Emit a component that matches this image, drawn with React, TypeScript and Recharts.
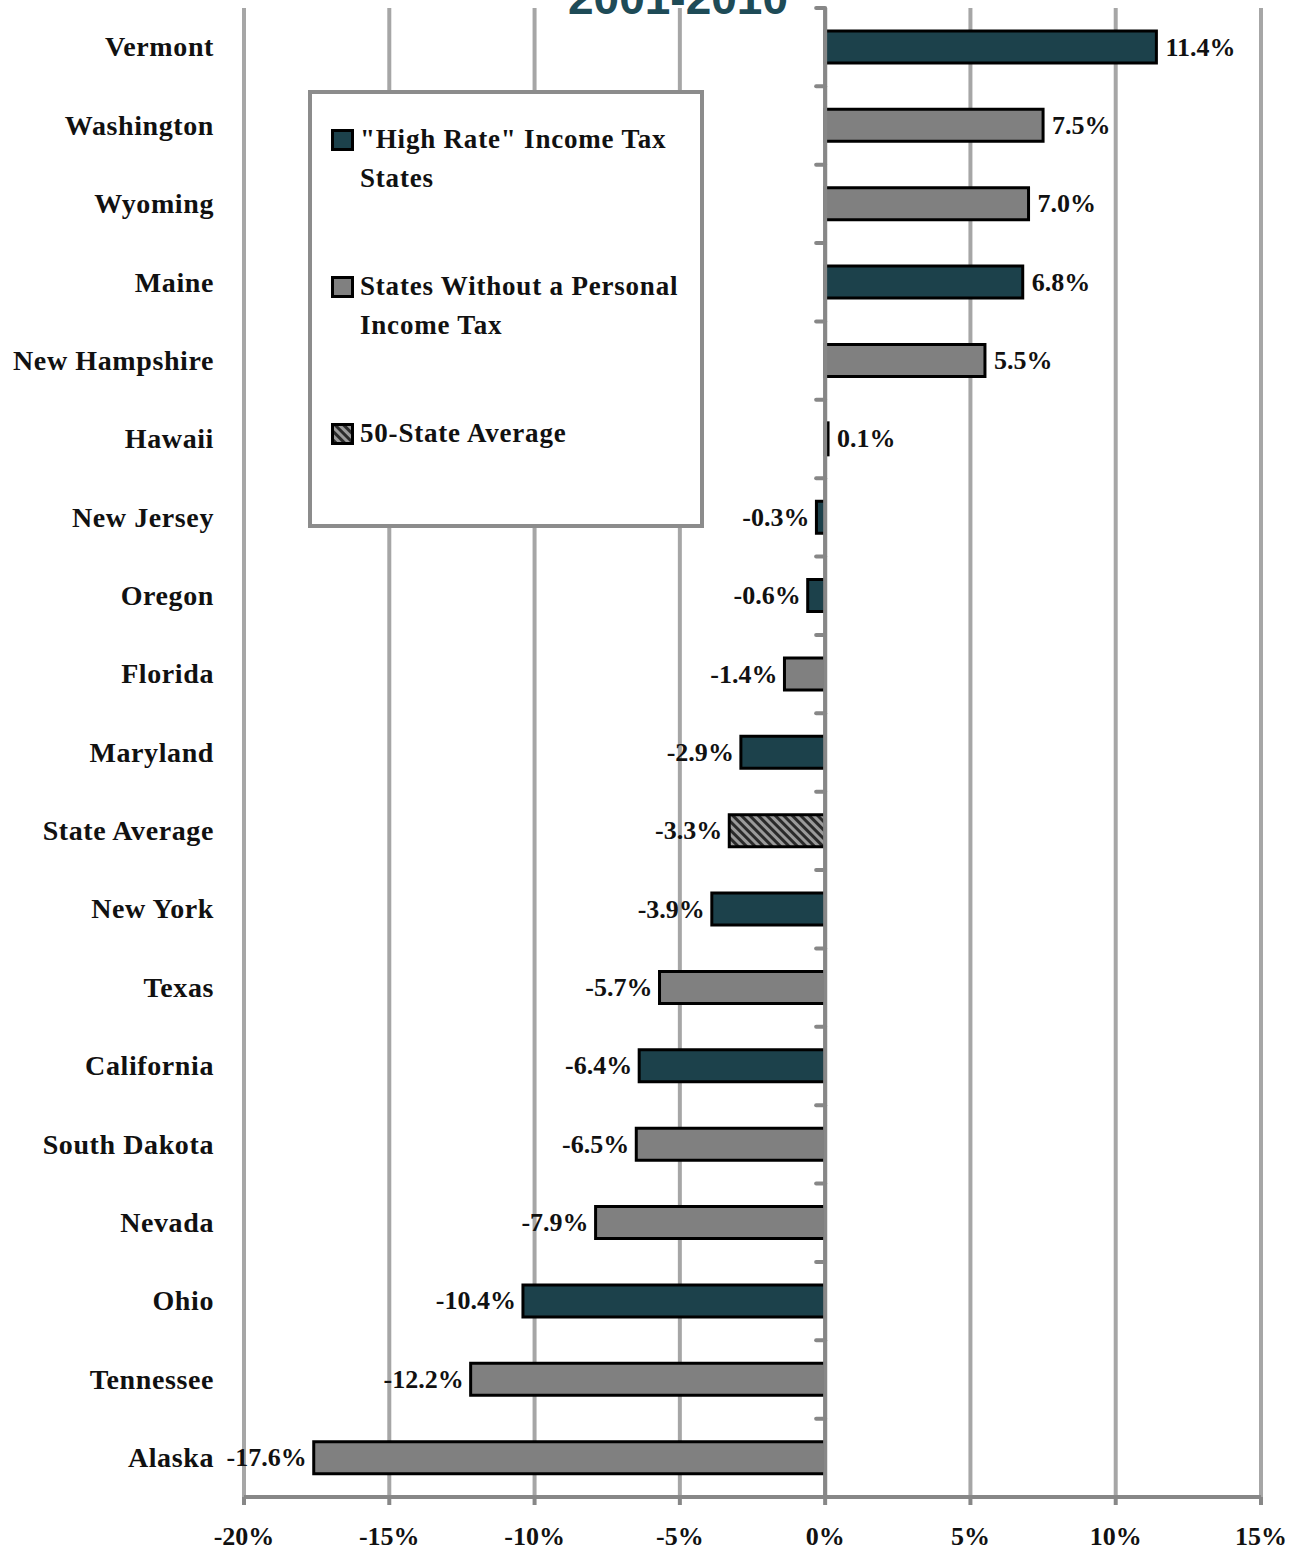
import React from "react";
import {
  BarChart,
  Bar,
  XAxis,
  YAxis,
  CartesianGrid,
  ReferenceLine,
  LabelList,
  Legend,
  Cell,
} from "recharts";

const states = [
  "Vermont",
  "Washington",
  "Wyoming",
  "Maine",
  "New Hampshire",
  "Hawaii",
  "New Jersey",
  "Oregon",
  "Florida",
  "Maryland",
  "State Average",
  "New York",
  "Texas",
  "California",
  "South Dakota",
  "Nevada",
  "Ohio",
  "Tennessee",
  "Alaska",
];

// percent change 2001-2010
const changes = [
  11.4, 7.5, 7.0, 6.8, 5.5, 0.1, -0.3, -0.6, -1.4, -2.9, -3.3, -3.9, -5.7,
  -6.4, -6.5, -7.9, -10.4, -12.2, -17.6,
];

// h = "high rate" income tax state, n = no personal income tax, a = average
const groups = [
  "h", "n", "n", "h", "n", "h", "h", "h", "n", "h",
  "a", "h", "n", "h", "n", "n", "h", "n", "n",
];

const xTicks = [-20, -15, -10, -5, 0, 5, 10, 15];

const legendItems = [
  { key: "h", label: "\"High Rate\" Income Tax\nStates" },
  { key: "n", label: "States Without a Personal\nIncome Tax" },
  { key: "a", label: "50-State Average" },
];

const TEAL = "#1c414b";
const GRAY = "#808080";
const GRID = "#a6a6a6";
const AXIS = "#878787";
const FONT = "'Liberation Serif', 'DejaVu Serif', serif";

const fills: Record<string, string> = {
  h: TEAL,
  n: GRAY,
  a: "url(#avgHatch)",
};

const data = states.map((name, i) => ({
  name,
  value: changes[i],
  group: groups[i],
}));

// zero axis line with small tick marks between categories
const ZeroAxis = (props: any) => {
  const { x1, y1, y2 } = props;
  const top = Math.min(y1, y2);
  const bottom = Math.max(y1, y2);
  const step = (bottom - top) / states.length;
  return (
    <g>
      <line x1={x1} y1={top} x2={x1} y2={bottom} stroke={AXIS} strokeWidth={4} />
      {states.map((s, i) => (
        <line
          key={s}
          x1={x1 - 9}
          x2={x1}
          y1={top + i * step}
          y2={top + i * step}
          stroke={AXIS}
          strokeWidth={4}
          strokeLinecap="round"
        />
      ))}
    </g>
  );
};

const StateTick = (props: any) => {
  const { x, y, payload } = props;
  return (
    <text
      x={x}
      y={y}
      dy="0.33em"
      textAnchor="end"
      fontFamily={FONT}
      fontWeight="bold"
      fontSize={28}
      letterSpacing={0.6}
      fill="#111"
    >
      {payload.value}
    </text>
  );
};

const ValueLabel = (props: any) => {
  const { x, y, width, height, value } = props;
  const left = Math.min(x, x + width);
  const right = Math.max(x, x + width);
  const pos = value >= 0;
  return (
    <text
      x={pos ? right + 9 : left - 7}
      y={y + height / 2}
      dy="0.33em"
      textAnchor={pos ? "start" : "end"}
      fontFamily={FONT}
      fontWeight="bold"
      fontSize={26}
      fill="#111"
    >
      {value.toFixed(1)}%
    </text>
  );
};

const LegendBox = () => (
  <div
    style={{
      boxSizing: "border-box",
      width: 396,
      height: 438,
      border: "4px solid #8c8c8c",
      background: "#fff",
      paddingTop: 26,
      paddingLeft: 19,
      fontFamily: FONT,
      fontWeight: "bold",
      fontSize: 27,
      color: "#111",
    }}
  >
    {legendItems.map((item) => (
      <div
        key={item.key}
        style={{ display: "flex", alignItems: "flex-start", height: 147 }}
      >
        <svg width={29} height={24} style={{ marginTop: 9, flex: "none" }}>
          <rect
            x={1.5}
            y={1.5}
            width={20}
            height={19}
            fill={fills[item.key]}
            stroke="#000"
            strokeWidth={3}
          />
        </svg>
        <div style={{ whiteSpace: "pre-line", lineHeight: "39px", letterSpacing: 0.8 }}>
          {item.label}
        </div>
      </div>
    ))}
  </div>
);

export default function App() {
  return (
    <div style={{ position: "absolute", left: 0, top: 0, width: 1299, height: 1551, background: "#fff" }}>
      <BarChart
        width={1299}
        height={1551}
        data={data}
        layout="vertical"
        barSize={32}
        margin={{ top: 8, right: 38, left: 0, bottom: 0 }}
      >
        <defs>
          <pattern
            id="avgHatch"
            width={6}
            height={6}
            patternUnits="userSpaceOnUse"
            patternTransform="rotate(-45)"
          >
            <rect x={0} y={0} width={6} height={6} fill="#9a9a9a" />
            <rect x={0} y={0} width={3} height={6} fill="#2a2a2a" />
          </pattern>
        </defs>
        <CartesianGrid horizontal={false} stroke={GRID} strokeWidth={4} />
        <XAxis
          type="number"
          domain={[-20, 15]}
          ticks={xTicks}
          tickFormatter={(v: number) => `${v}%`}
          axisLine={{ stroke: AXIS, strokeWidth: 4 }}
          tickLine={{ stroke: AXIS, strokeWidth: 4 }}
          tickSize={8}
          tickMargin={22}
          height={54}
          tick={{ fontFamily: FONT, fontWeight: "bold", fontSize: 26, fill: "#111" }}
        />
        <YAxis
          type="category"
          dataKey="name"
          width={244}
          axisLine={false}
          tickLine={false}
          tickSize={0}
          tickMargin={30}
          interval={0}
          tick={<StateTick />}
        />
        <Legend
          verticalAlign="middle"
          align="center"
          layout="horizontal"
          wrapperStyle={{ left: 308, top: 90, width: 396, height: 438 }}
          content={<LegendBox />}
        />
        <Bar dataKey="value" stroke="#000" strokeWidth={3} isAnimationActive={false}>
          {data.map((d) => (
            <Cell key={d.name} fill={fills[d.group]} />
          ))}
          <LabelList dataKey="value" content={<ValueLabel />} />
        </Bar>
        <ReferenceLine x={0} shape={<ZeroAxis />} />
      </BarChart>
      <svg
        width={1299}
        height={40}
        style={{ position: "absolute", left: 0, top: 0, pointerEvents: "none" }}
      >
        <text
          x={678}
          y={14}
          textAnchor="middle"
          fontFamily="'Liberation Sans', Arial, sans-serif"
          fontWeight="bold"
          fontSize={46}
          fill="#1e4b57"
        >
          2001-2010
        </text>
      </svg>
    </div>
  );
}
